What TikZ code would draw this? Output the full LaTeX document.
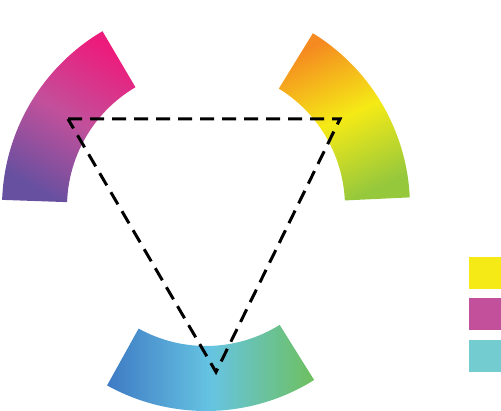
\documentclass[tikz,border=0pt]{standalone}
\usetikzlibrary{positioning}
\definecolor{rosa}{RGB}{236,28,124}
\definecolor{magenta}{RGB}{194,80,155}
\definecolor{viola}{RGB}{104,80,160}
\definecolor{arancio}{RGB}{245,138,32}
\definecolor{giallo}{RGB}{245,234,22}
\definecolor{verdino}{RGB}{150,200,60}
\definecolor{blu}{RGB}{62,122,196}
\definecolor{ciano}{RGB}{102,196,226}
\definecolor{verde}{RGB}{110,192,95}
\definecolor{ciano2}{RGB}{114,204,208}
\tikzset{
	tratteggio/.style = {line width = 3pt, dash pattern = on 14pt off 8pt, line join = miter},
	campione/.style = {minimum width = 32pt, minimum height = 32pt, inner sep = 0pt}
}
\begin{document}
\begin{tikzpicture}[x = 1pt, y = 1pt]
	\useasboundingbox (0,0) rectangle (501,411);
	%%%	Ruota
	\begin{scope}[shift = {(206,204)}]
	\shade[top color = rosa, bottom color = viola, middle color = magenta, shading angle = -30] (120.5:204) arc (120.5:178:204) -- (178:139) arc (178:120.5:139) -- cycle;
	\shade[top color = arancio, bottom color = verdino, middle color = giallo, shading angle = 25] (2.7:204) arc (2.7:58.4:204) -- (58.4:139) arc (58.4:2.7:139) -- cycle;
	\shade[left color = blu, right color = verde, middle color = ciano] (241:204) arc (241:302:204) -- (302:139) arc (302:241:139) -- cycle;
	\end{scope}
	%%%	Triangolo
	\coordinate (L) at (68,292);
	\coordinate (R) at (340,292);
	\coordinate (B) at (216,39);
	\draw[tratteggio] (L) -- (R) -- (B) -- cycle;
	%%%	Campioni
	\node[campione, fill = giallo] (cgiallo) at (485,138) {};
	\node[campione, fill = magenta, below = 9pt of cgiallo] (cmagenta) {};
	\node[campione, fill = ciano2, below = 9pt of cmagenta] (cciano) {};
\end{tikzpicture}
\end{document}
